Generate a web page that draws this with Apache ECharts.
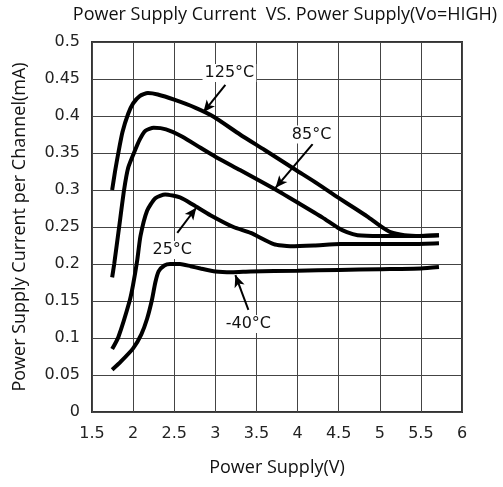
<!DOCTYPE html>
<html><head><meta charset="utf-8">
<script src="https://cdn.jsdelivr.net/npm/echarts@6/dist/echarts.min.js"></script>
<style>html,body{margin:0;padding:0;background:#fff}#c{width:503px;height:487px}</style>
</head><body><div id="c"></div>
<script>
const xTicks = [1.5, 2, 2.5, 3, 3.5, 4, 4.5, 5, 5.5, 6];
const yTicks = [0, 0.05, 0.1, 0.15, 0.2, 0.25, 0.3, 0.35, 0.4, 0.45, 0.5];

const t125x = [1.745,1.78,1.82,1.87,1.94,2.0,2.08,2.18,2.3,2.5,2.76,2.98,3.3,3.6,3.98,4.25,4.49,4.7,4.85,5.0,5.13,5.3,5.5,5.72];
const t125y = [0.30,0.325,0.35,0.378,0.403,0.417,0.427,0.431,0.429,0.422,0.411,0.399,0.375,0.354,0.327,0.308,0.29,0.275,0.264,0.252,0.243,0.239,0.238,0.239];

const t85x = [1.745,1.77,1.83,1.89,1.94,2.01,2.08,2.15,2.25,2.4,2.6,2.82,3.0,3.3,3.71,4.0,4.3,4.49,4.6,4.73,5.0,5.4,5.72];
const t85y = [0.182,0.2,0.25,0.3,0.33,0.35,0.368,0.38,0.384,0.382,0.372,0.357,0.345,0.327,0.302,0.283,0.263,0.249,0.243,0.239,0.238,0.238,0.239];

const t25x = [1.745,1.82,1.96,2.0,2.05,2.09,2.17,2.27,2.39,2.57,2.73,2.94,3.22,3.43,3.71,3.91,4.2,4.52,5.0,5.4,5.72];
const t25y = [0.085,0.101,0.151,0.172,0.205,0.238,0.272,0.289,0.294,0.29,0.28,0.266,0.25,0.242,0.227,0.224,0.225,0.227,0.227,0.227,0.228];

const tm40x = [1.745,1.85,2.0,2.1,2.17,2.23,2.27,2.31,2.38,2.45,2.57,2.7,2.82,3.0,3.2,3.43,4.0,4.5,5.0,5.5,5.72];
const tm40y = [0.057,0.068,0.086,0.105,0.126,0.152,0.175,0.19,0.198,0.2,0.2,0.197,0.194,0.19,0.189,0.19,0.191,0.192,0.193,0.194,0.196];

const seriesNames = ['125°C','85°C','25°C','-40°C'];
// annotation label anchor [x, y] and arrow [fromX, fromY, toX, toY] in data units
const labelPos = [[3.171,0.458],[4.171,0.375],[2.476,0.219],[3.402,0.119]];
const arrows = [[3.122,0.442,2.854,0.405],[4.183,0.362,3.732,0.303],[2.537,0.242,2.768,0.276],[3.402,0.138,3.244,0.185]];

const xs = [t125x,t85x,t25x,tm40x], ys=[t125y,t85y,t25y,tm40y];
const series = seriesNames.map((n,i)=>({
  name:n, type:'line', smooth:0.2, showSymbol:false, symbol:'none',
  data: xs[i].map((x,j)=>[x, ys[i][j]]),
  lineStyle:{color:'#000', width:4},
  z:3,
  markPoint:{symbol:'rect', symbolSize:0, silent:true,
    data:[{coord:labelPos[i], value:n}],
    label:{show:true, formatter:n, position:'inside', color:'#111', fontFamily:'DejaVu Sans', fontSize:16,
      backgroundColor:'#fff', padding:[1,2]}},
  markLine:{silent:true, symbol:['none','arrow'], symbolSize:[8,12],
    lineStyle:{color:'#000', width:2, type:'solid'}, label:{show:false},
    data:[[{coord:[arrows[i][0],arrows[i][1]]},{coord:[arrows[i][2],arrows[i][3]]}]]}
}));

const chart = echarts.init(document.getElementById('c'), null, {renderer:'canvas'});
chart.setOption({
  animation:false,
  backgroundColor:'#fff',
  title:{text:'Power Supply Current  VS. Power Supply(Vo=HIGH)', left:280, textAlign:'center', top:1,
    textStyle:{fontFamily:'Open Sans', fontWeight:'normal', fontSize:18, color:'#111'}},
  grid:{left:92, right:41, top:42, bottom:75, show:true, borderColor:'#333', borderWidth:2},
  xAxis:{type:'value', min:xTicks[0], max:xTicks[xTicks.length-1], interval:0.5,
    name:'Power Supply(V)', nameLocation:'middle', nameGap:47,
    nameTextStyle:{fontFamily:'Open Sans', fontSize:18, color:'#111'},
    axisLine:{show:false}, axisTick:{show:false},
    axisLabel:{fontFamily:'DejaVu Sans', fontSize:16, color:'#222', margin:14},
    splitLine:{show:true, lineStyle:{color:'#444', width:1}}},
  yAxis:{type:'value', min:yTicks[0], max:yTicks[yTicks.length-1], interval:0.05,
    name:'Power Supply Current per Channel(mA)', nameLocation:'middle', nameGap:63,
    nameTextStyle:{fontFamily:'Open Sans', fontSize:18, color:'#111'},
    axisLine:{show:false}, axisTick:{show:false},
    axisLabel:{fontFamily:'DejaVu Sans', fontSize:16, color:'#222', margin:12,
      formatter:v=>String(parseFloat(v.toFixed(2)))},
    splitLine:{show:true, lineStyle:{color:'#444', width:1}}},
  series:series
});
</script></body></html>
